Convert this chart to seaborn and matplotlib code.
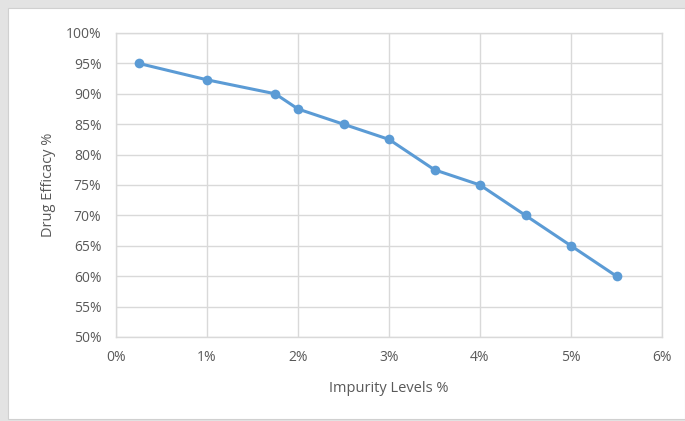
import pandas as pd
import matplotlib.pyplot as plt
import seaborn as sns
from matplotlib.patches import Rectangle
from matplotlib.ticker import FuncFormatter

# values
impurity = [0.25, 1.0, 1.75, 2.0, 2.5, 3.0, 3.5, 4.0, 4.5, 5.0, 5.5]
efficacy = [95.0, 92.3, 90.0, 87.5, 85.0, 82.5, 77.5, 75.0, 70.0, 65.0, 60.0]
x_ticks = [0, 1, 2, 3, 4, 5, 6]
y_ticks = [50, 55, 60, 65, 70, 75, 80, 85, 90, 95, 100]

df = pd.DataFrame({'impurity': impurity, 'efficacy': efficacy})

sns.set_style('white')
plt.rcParams['font.family'] = ['Open Sans', 'DejaVu Sans']
text_color = '#595959'
grid_color = '#d9d9d9'
line_color = '#5b9bd5'

W, H = 685, 421
fig = plt.figure(figsize=(W / 100, H / 100), dpi=100)
fig.patch.set_facecolor('#e3e3e3')
# white chart panel
fig.add_artist(Rectangle((8 / W, 1 - 419 / H), (W - 8) / W, (419 - 8) / H,
                         transform=fig.transFigure, facecolor='white',
                         edgecolor='#d0d0d0', linewidth=0.8, zorder=0))

ax_l, ax_r, ax_t, ax_b = 116, 662, 33, 337
ax = fig.add_axes([ax_l / W, 1 - ax_b / H, (ax_r - ax_l) / W, (ax_b - ax_t) / H])
ax.set_facecolor('none')

sns.lineplot(data=df, x='impurity', y='efficacy', ax=ax, color=line_color,
             linewidth=2.2, marker='o', markersize=7, markeredgewidth=0,
             zorder=3)

ax.set_xlim(0, 6)
ax.set_ylim(50, 100)
ax.set_xticks(x_ticks)
ax.set_yticks(y_ticks)
ax.xaxis.set_major_formatter(FuncFormatter(lambda v, p: f'{v:.0f}%'))
ax.yaxis.set_major_formatter(FuncFormatter(lambda v, p: f'{v:.0f}%'))
ax.grid(True, color=grid_color, linewidth=1)
ax.set_axisbelow(True)
for s in ax.spines.values():
    s.set_color(grid_color)
    s.set_linewidth(1)
ax.tick_params(length=0, labelsize=10, colors=text_color)
ax.tick_params(axis='y', pad=10.5)
ax.tick_params(axis='x', pad=9.5)

ax.set_xlabel('Impurity Levels %', fontsize=10.5, color=text_color)
ax.set_ylabel('Drug Efficacy %', fontsize=10.5, color=text_color)
# place axis titles where they sit in the reference (pixel -> axes coords)
ax.xaxis.set_label_coords((389 - ax_l) / (ax_r - ax_l), -(388 - ax_b) / (ax_b - ax_t))
ax.xaxis.label.set_va('center')
ax.yaxis.set_label_coords(-(ax_l - 48) / (ax_r - ax_l), (ax_b - 185) / (ax_b - ax_t))
ax.yaxis.label.set_va('center')

fig.savefig('out.png', dpi=100, facecolor=fig.get_facecolor())
